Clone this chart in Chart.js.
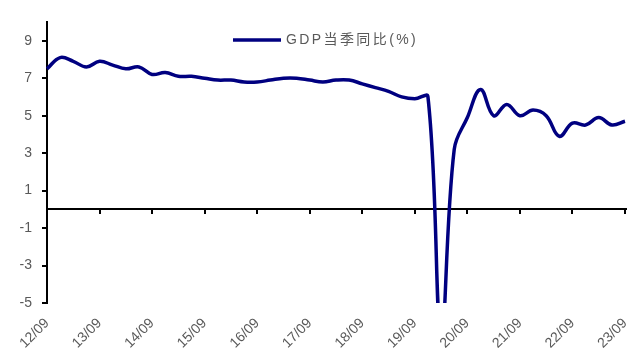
<!DOCTYPE html>
<html>
<head>
<meta charset="utf-8">
<script src="https://cdn.jsdelivr.net/npm/chart.js@4/dist/chart.umd.min.js"></script>
<style>
  html, body { margin: 0; padding: 0; background: #ffffff; }
  #wrap { width: 629px; height: 363px; position: relative; }
</style>
</head>
<body>
<div id="wrap"><canvas id="c" width="629" height="363"></canvas></div>
<script>
// Quarter labels (yy/mm), 2012Q3 .. 2023Q3
const quarters = [
  '12/09','12/12',
  '13/03','13/06','13/09','13/12',
  '14/03','14/06','14/09','14/12',
  '15/03','15/06','15/09','15/12',
  '16/03','16/06','16/09','16/12',
  '17/03','17/06','17/09','17/12',
  '18/03','18/06','18/09','18/12',
  '19/03','19/06','19/09','19/12',
  '20/03','20/06','20/09','20/12',
  '21/03','21/06','21/09','21/12',
  '22/03','22/06','22/09','22/12',
  '23/03','23/06','23/09'
];

// GDP year-on-year growth for each quarter (%)
const gdpYoY = [
  7.5, 8.1,
  7.9, 7.6, 7.9, 7.7,
  7.5, 7.6, 7.2, 7.3,
  7.1, 7.1, 7.0, 6.9,
  6.9, 6.8, 6.8, 6.9,
  7.0, 7.0, 6.9, 6.8,
  6.9, 6.9, 6.7, 6.5,
  6.3, 6.0, 5.9, 6.0,
  -6.8, 3.2, 4.9, 6.4,
  5.0, 5.6, 5.0, 5.3,
  5.0, 3.9, 4.6, 4.5,
  4.9, 4.5, 4.7
];

// Value-axis tick values
const yTickValues = [-5, -3, -1, 1, 3, 5, 7, 9];

const seriesName = 'GDP当季同比(%)';
const lineColor = '#000080';
const textColor = '#595959';
const fontFamily = '"Liberation Sans", Arial, "Noto Sans CJK SC", sans-serif';

// Zero line with short downward tick marks at each September label
const zeroAxisPlugin = {
  id: 'zeroAxis',
  beforeDatasetsDraw(chart) {
    const { ctx, chartArea, scales } = chart;
    const y0 = Math.round(scales.y.getPixelForValue(0));
    ctx.save();
    ctx.strokeStyle = '#000000';
    ctx.lineWidth = 2;
    ctx.beginPath();
    ctx.moveTo(chartArea.left, y0);
    ctx.lineTo(chartArea.right + 2, y0);
    ctx.stroke();
    ctx.beginPath();
    quarters.forEach((q, i) => {
      if (i > 0 && q.endsWith('/09')) {
        const x = Math.round(scales.x.getPixelForValue(i));
        ctx.moveTo(x, y0);
        ctx.lineTo(x, y0 + 5);
      }
    });
    ctx.stroke();
    ctx.restore();
  }
};

// Legend drawn inside the plot, near the top
const innerLegendPlugin = {
  id: 'innerLegend',
  afterDraw(chart) {
    const { ctx } = chart;
    const x = 233, y = 40;
    ctx.save();
    ctx.strokeStyle = lineColor;
    ctx.lineWidth = 3.5;
    ctx.beginPath();
    ctx.moveTo(x, y);
    ctx.lineTo(x + 48, y);
    ctx.stroke();
    ctx.fillStyle = textColor;
    ctx.font = '14px ' + fontFamily;
    ctx.textBaseline = 'middle';
    ctx.textAlign = 'left';
    ctx.letterSpacing = '2.4px';
    ctx.fillText(seriesName, x + 53, y);
    ctx.restore();
  }
};

new Chart(document.getElementById('c'), {
  type: 'line',
  data: {
    labels: quarters,
    datasets: [{
      label: seriesName,
      data: gdpYoY,
      borderColor: lineColor,
      backgroundColor: lineColor,
      borderWidth: 3.5,
      pointRadius: 0,
      tension: 0.4,
      fill: false
    }]
  },
  options: {
    responsive: false,
    animation: false,
    layout: { padding: { top: 22, right: 4, left: 0, bottom: 0 } },
    plugins: {
      legend: { display: false },
      tooltip: { enabled: false }
    },
    scales: {
      x: {
        type: 'category',
        offset: false,
        grid: { display: false, drawTicks: false },
        border: { display: false },
        ticks: {
          autoSkip: false,
          minRotation: 45,
          maxRotation: 45,
          padding: 12,
          color: textColor,
          font: { size: 14, family: fontFamily },
          callback(value, index) {
            const q = quarters[index];
            return q.endsWith('/09') ? q : '';
          }
        },
        afterFit(scale) {
          scale.height = 60;
          scale.paddingLeft = 0;
          scale.paddingRight = 0;
        }
      },
      y: {
        min: -5,
        max: 10,
        afterBuildTicks(scale) {
          scale.ticks = yTickValues.map(v => ({ value: v }));
        },
        grid: {
          display: true,
          drawOnChartArea: false,
          drawTicks: true,
          tickLength: 5,
          color: '#000000',
          lineWidth: 2
        },
        border: { display: true, color: '#000000', width: 2 },
        ticks: {
          padding: 10,
          color: textColor,
          font: { size: 14, family: fontFamily }
        },
        afterFit(scale) {
          scale.width = 47;
          scale.paddingTop = 0;
          scale.paddingBottom = 0;
        }
      }
    }
  },
  plugins: [zeroAxisPlugin, innerLegendPlugin]
});
</script>
</body>
</html>
